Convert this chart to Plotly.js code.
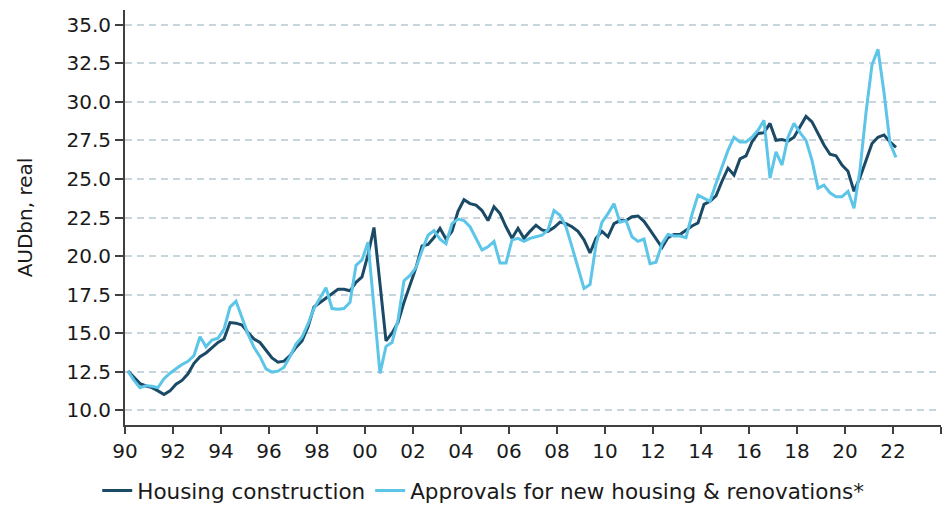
<!DOCTYPE html>
<html>
<head>
<meta charset="utf-8">
<script src="https://cdn.plot.ly/plotly-3.0.1.min.js"></script>
<style>
  html, body { margin: 0; padding: 0; background: #ffffff; }
  #chart { width: 942px; height: 512px; }
</style>
</head>
<body>
<div id="chart"></div>
<script>
// Quarterly series, 1990Q1 .. 2022Q1 (AUDbn, real)
const firstQuarter = 1990.125;   // mid-point of 1990Q1
const quarterStep = 0.25;

const housingConstruction = [
  12.54, 12.10, 11.73, 11.58,
  11.47, 11.26, 11.03, 11.26,
  11.69, 11.94, 12.37, 13.05,
  13.48, 13.72, 14.08, 14.40,
  14.62, 15.69, 15.65, 15.53,
  15.04, 14.62, 14.40, 13.87,
  13.40, 13.12, 13.19, 13.55,
  14.08, 14.50, 15.40, 16.70,
  17.00, 17.30, 17.60, 17.85,
  17.85, 17.75, 18.30, 18.65,
  20.10, 21.85, 18.20, 14.50,
  15.00, 15.70, 17.00, 18.10,
  19.25, 20.65, 20.75, 21.20,
  21.80, 21.10, 21.60, 22.90,
  23.65, 23.40, 23.30, 22.95,
  22.30, 23.20, 22.75, 21.90,
  21.15, 21.80, 21.15, 21.60,
  22.00, 21.70, 21.60, 21.85,
  22.20, 22.10, 21.90, 21.60,
  21.05, 20.20, 21.15, 21.60,
  21.25, 22.10, 22.30, 22.30,
  22.55, 22.60, 22.25, 21.70,
  21.10, 20.55, 21.20, 21.40,
  21.40, 21.70, 21.95, 22.15,
  23.35, 23.55, 23.90, 24.85,
  25.70, 25.25, 26.30, 26.50,
  27.40, 27.95, 28.00, 28.60,
  27.50, 27.55, 27.45, 27.70,
  28.40, 29.05, 28.70, 27.90,
  27.20, 26.60, 26.50, 25.90,
  25.50, 24.20, 25.10, 26.20,
  27.30, 27.70, 27.85, 27.40,
  27.05
];

const approvals = [
  12.54, 11.94, 11.47, 11.60,
  11.56, 11.47, 12.05, 12.41,
  12.69, 12.97, 13.18, 13.55,
  14.77, 14.13, 14.56, 14.68,
  15.26, 16.69, 17.08, 16.01,
  14.94, 14.08, 13.48, 12.69,
  12.48, 12.54, 12.80, 13.48,
  14.29, 14.75, 15.60, 16.60,
  17.30, 17.95, 16.60, 16.55,
  16.60, 17.00, 19.40, 19.75,
  20.90, 16.60, 12.40, 14.15,
  14.40, 15.85, 18.40, 18.75,
  19.25, 20.35, 21.35, 21.65,
  21.10, 20.80, 22.10, 22.40,
  22.30, 21.90, 21.15, 20.40,
  20.60, 20.95, 19.55, 19.55,
  21.05, 21.15, 20.95, 21.15,
  21.25, 21.35, 21.70, 22.95,
  22.65, 21.90, 20.60, 19.25,
  17.90, 18.15, 20.75, 22.20,
  22.75, 23.40, 22.20, 22.30,
  21.25, 20.95, 21.10, 19.50,
  19.60, 20.80, 21.40, 21.30,
  21.30, 21.20, 22.70, 23.95,
  23.75, 23.55, 24.70, 25.80,
  26.85, 27.70, 27.40, 27.40,
  27.70, 28.15, 28.80, 25.05,
  26.75, 25.90, 27.70, 28.60,
  28.00, 27.50, 26.20, 24.40,
  24.60, 24.10, 23.85, 23.85,
  24.20, 23.10, 25.60, 29.30,
  32.40, 33.40, 30.60, 27.30,
  26.40
];

const seriesNames = ["Housing construction", "Approvals for new housing & renovations*"];
const xTickValues = [1990, 1992, 1994, 1996, 1998, 2000, 2002, 2004, 2006, 2008, 2010, 2012, 2014, 2016, 2018, 2020, 2022, 2024];
const xTickLabels = ["90", "92", "94", "96", "98", "00", "02", "04", "06", "08", "10", "12", "14", "16", "18", "20", "22", ""];
const yTickValues = [10, 12.5, 15, 17.5, 20, 22.5, 25, 27.5, 30, 32.5, 35];
const yTitle = "AUDbn, real";

const quarters = housingConstruction.map((_, i) => firstQuarter + quarterStep * i);

const FONT = "DejaVu Sans, Verdana, sans-serif";
const TXT = "#1a1a1a";

const traces = [
  {
    x: quarters, y: housingConstruction, name: seriesNames[0],
    type: "scatter", mode: "lines",
    line: { color: "#1b4a67", width: 3 }
  },
  {
    x: quarters, y: approvals, name: seriesNames[1],
    type: "scatter", mode: "lines",
    line: { color: "#5cc5e8", width: 3 }
  }
];

const layout = {
  width: 942, height: 512,
  margin: { l: 125, r: 1, t: 10, b: 84 },
  paper_bgcolor: "#ffffff",
  plot_bgcolor: "#ffffff",
  font: { family: FONT, size: 20, color: TXT },
  showlegend: true,
  legend: {
    orientation: "h",
    x: 0.439, xanchor: "center",
    y: -0.158, yanchor: "middle",
    font: { family: FONT, size: 21.5, color: TXT },
    itemwidth: 30,
    tracegroupgap: 0,
    bgcolor: "rgba(0,0,0,0)"
  },
  xaxis: {
    range: [1990, 2024],
    tickmode: "array",
    tickvals: xTickValues,
    ticktext: xTickLabels,
    ticks: "outside", ticklen: 7, tickwidth: 2, tickcolor: "#404040",
    showline: true, linecolor: "#404040", linewidth: 2,
    showgrid: false, zeroline: false,
    tickfont: { family: FONT, size: 20, color: TXT }
  },
  yaxis: {
    range: [9.05, 35.95],
    tickmode: "array",
    tickvals: yTickValues,
    tickformat: ".1f",
    ticks: "outside", ticklen: 8, tickwidth: 2, tickcolor: "#404040",
    showline: true, linecolor: "#404040", linewidth: 2,
    showgrid: true, gridcolor: "#c9d5dc", gridwidth: 2, griddash: "7px,5px",
    zeroline: false,
    tickfont: { family: FONT, size: 20, color: TXT },
    title: { text: yTitle, font: { family: FONT, size: 20, color: TXT }, standoff: 28 }
  },
  hovermode: false
};

Plotly.newPlot("chart", traces, layout, { displayModeBar: false, staticPlot: true });
</script>
</body>
</html>
